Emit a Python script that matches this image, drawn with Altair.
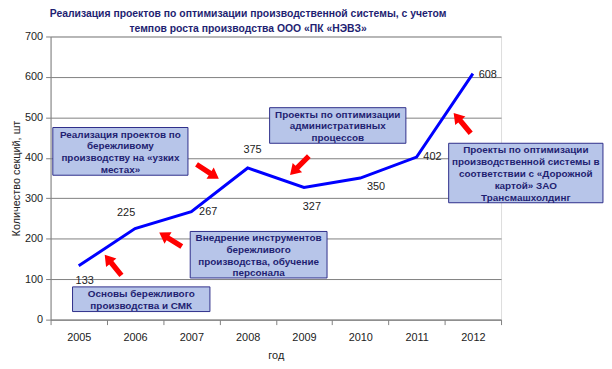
import altair as alt
import pandas as pd

# ---- data -------------------------------------------------------------
years = [2005, 2006, 2007, 2008, 2009, 2010, 2011, 2012]
sections = [133, 225, 267, 375, 327, 350, 402, 608]

# annotation boxes (data units)
box_texts = [
    "Основы бережливого\nпроизводства и СМК",
    "Внедрение инструментов\nбережливого\nпроизводства, обучение\nперсонала",
    "Реализация проектов по\nбережливому\nпроизводству на «узких\nместах»",
    "Проекты по оптимизации\nадминистративных\nпроцессов",
    "Проекты по оптимизации\nпроизводственной системы в\nсоответствии с «Дорожной\nкартой» ЗАО\nТрансмашхолдинг",
]
box_x1 = [2004.89, 2006.98, 2004.54, 2008.39, 2011.57]
box_x2 = [2007.33, 2009.41, 2006.94, 2010.81, 2014.31]
box_y1 = [20, 103, 357, 436, 289]
box_y2 = [81, 218, 475, 524, 436]

# red arrows (centre in data units, direction in degrees)
arrow_x = [2005.61, 2006.63, 2007.29, 2008.92, 2011.81]
arrow_y = [135, 198, 366, 381, 486]
arrow_angle = [321, 302, 123, 225, 320]

# label offsets in px (styling)
label_dx = [6, -9, 17, 5, 8, 16, 16, 15]
label_dy = [15, -16, 0, -18, 20, 9, 0, 1]

# ---- tables ---------------------------------------------------------------
df = pd.DataFrame({"x": years, "y": sections})
boxes = pd.DataFrame({
    "x": box_x1, "x2": box_x2, "y": box_y1, "y2": box_y2, "text": box_texts,
})
boxes["xc"] = (boxes["x"] + boxes["x2"]) / 2
boxes["yc"] = (boxes["y"] + boxes["y2"]) / 2
boxes["id"] = range(len(boxes))
arrows = pd.DataFrame({"x": arrow_x, "y": arrow_y, "angle": arrow_angle})

FONT = "Liberation Sans"
NAVY = "#1F1F72"
LINE_H = 12

x_scale = alt.Scale(domain=[2004.5, 2012.5], nice=False, zero=False)
y_scale = alt.Scale(domain=[0, 700], nice=False, zero=False)

x_axis = alt.Axis(
    title="год",
    values=[2004.5 + i for i in range(9)],
    labelExpr="datum.value > 2012 ? '' : format(datum.value + 0.5, 'd')",
    labelOffset=28.44,
    labelFlush=False, labelOverlap=False, labelBound=False,
    grid=False, tickSize=5, tickColor="#808080", domainColor="#808080",
    labelFontSize=11, labelColor="#222222", labelFont=FONT, labelPadding=7,
    titleFontSize=11, titleFontWeight="normal", titleColor="#222222",
    titleFont=FONT, titlePadding=7,
)
y_axis = alt.Axis(
    title="Количество секций, шт",
    values=[0, 100, 200, 300, 400, 500, 600, 700],
    format="d",
    labelFlush=False, labelOverlap=False, labelBound=False,
    grid=True, gridColor="#808080", gridWidth=1,
    tickSize=5, tickColor="#808080", domainColor="#808080",
    labelFontSize=11, labelColor="#222222", labelFont=FONT, labelPadding=3,
    titleFontSize=11, titleFontWeight="normal", titleColor="#222222",
    titleFont=FONT, titlePadding=3,
)


def X(field):
    return alt.X(f"{field}:Q", scale=x_scale, axis=x_axis)


def Y(field):
    return alt.Y(f"{field}:Q", scale=y_scale, axis=y_axis)


line = alt.Chart(df).mark_line(color="#0000FF", strokeWidth=3).encode(
    x=X("x"), y=Y("y")
)

label_layers = []
for i, yr in enumerate(years):
    label_layers.append(
        alt.Chart(df).transform_filter(alt.datum.x == yr)
        .mark_text(font=FONT, fontSize=11, color="#222222",
                   dx=label_dx[i], dy=label_dy[i], align="center",
                   baseline="middle")
        .encode(x=X("x"), y=Y("y"), text=alt.Text("y:Q", format="d"))
    )

rects = alt.Chart(boxes).mark_rect(
    fill="#B7C5E9", stroke="#2E2E8A", strokeWidth=1, clip=False
).encode(x=X("x"), x2="x2:Q", y=Y("y"), y2="y2:Q")

text_layers = []
for i, t in enumerate(box_texts):
    n_lines = t.count("\n") + 1
    text_layers.append(
        alt.Chart(boxes).transform_filter(alt.datum.id == i)
        .mark_text(font=FONT, fontSize=10, fontWeight="bold", color=NAVY,
                   align="center", baseline="middle", lineBreak="\n",
                   lineHeight=LINE_H, dy=-(n_lines - 1) * LINE_H / 2 + 1,
                   clip=False)
        .encode(x=X("xc"), y=Y("yc"), text="text:N")
    )

arrow_path = ("M -0.2 1 L -0.2 -0.22 L -0.5 -0.22 L 0 -1 "
              "L 0.5 -0.22 L 0.2 -0.22 L 0.2 1 Z")
arrow_marks = alt.Chart(arrows).mark_point(
    shape=arrow_path, filled=True, fill="#FF0000", color="#FF0000",
    opacity=1, size=720, strokeWidth=0,
).encode(x=X("x"), y=Y("y"), angle=alt.Angle("angle:Q", scale=None))

chart = alt.layer(line, *label_layers, rects, *text_layers, arrow_marks).properties(
    width=455,
    height=286,
    autosize=alt.AutoSizeParams(type="none"),
    padding={"left": 43, "top": 27, "right": 104, "bottom": 40},
    title=alt.TitleParams(
        text=["Реализация проектов по оптимизации производственной системы, с учетом",
              "темпов роста производства ООО «ПК «НЭВЗ»"],
        font=FONT, fontSize=10.5, fontWeight="bold", color=NAVY,
        anchor="middle", frame="group", dx=-28, offset=-4, lineHeight=15,
    ),
).configure_view(
    fill="#C0C0C0", stroke="#808080", strokeWidth=1
).configure(background="white")

chart.save("out.html", embed_options={"renderer": "svg", "actions": False})
